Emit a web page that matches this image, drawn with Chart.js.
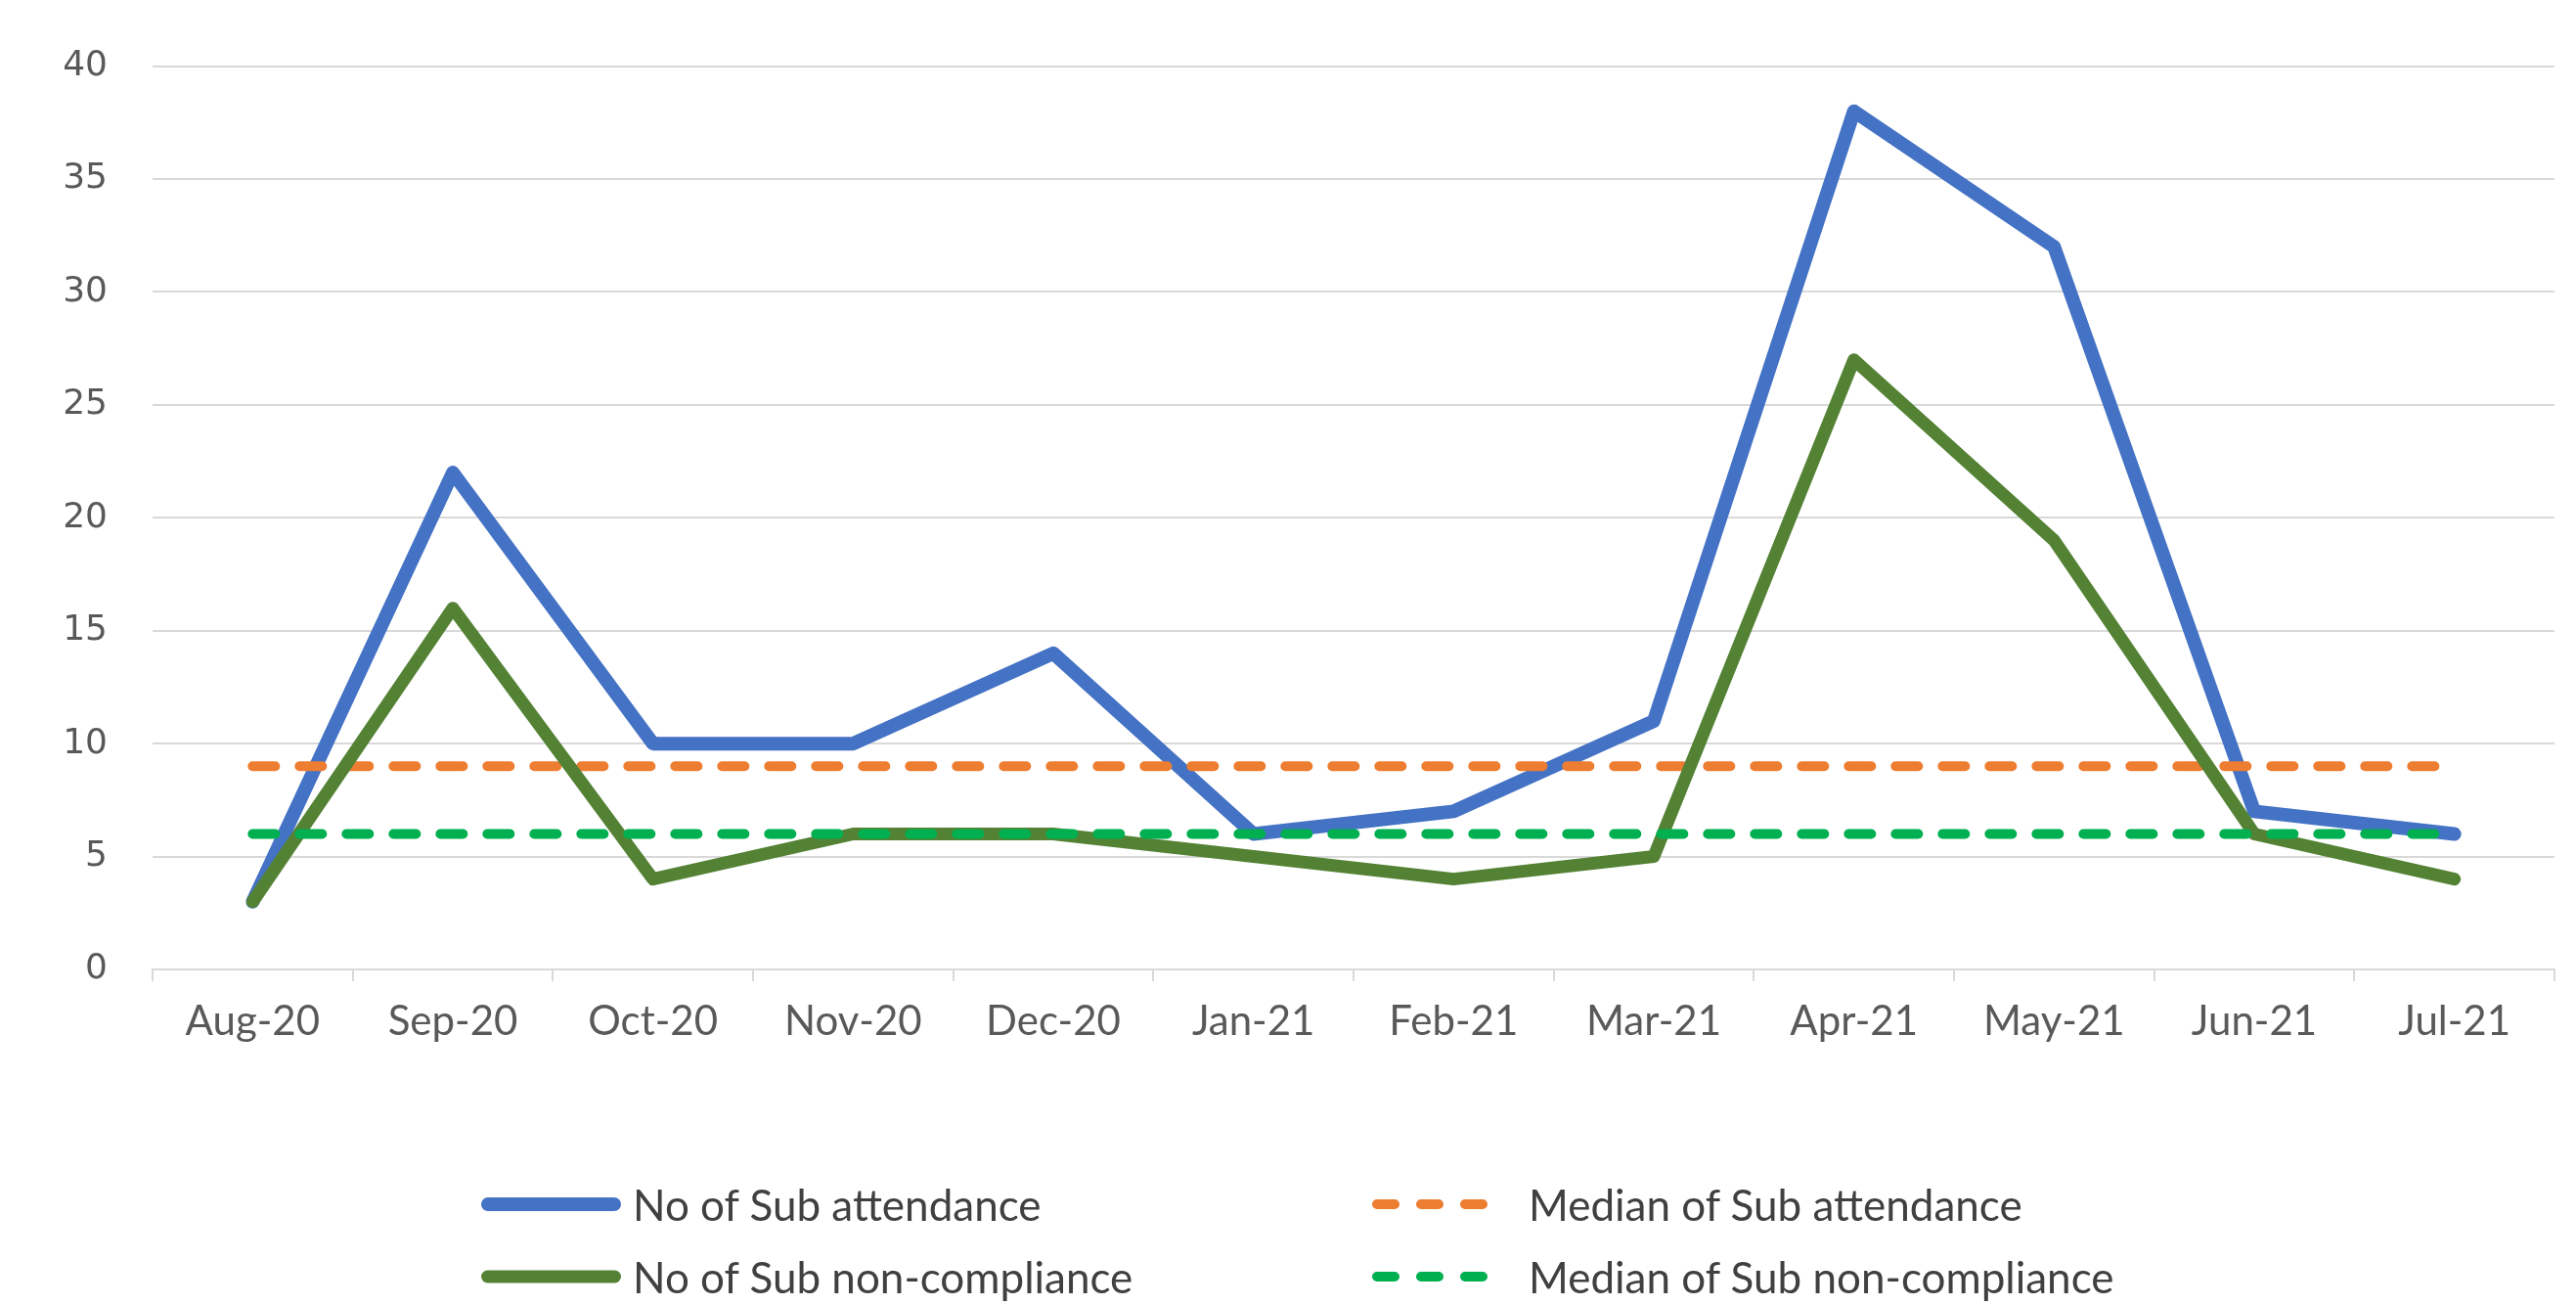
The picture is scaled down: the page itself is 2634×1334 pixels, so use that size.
<!DOCTYPE html>
<html>
<head>
<meta charset="utf-8">
<script src="https://cdn.jsdelivr.net/npm/chart.js@4.4.1/dist/chart.umd.min.js"></script>
<style>
  body { margin: 0; background: #fff; }
  #wrap { position: relative; width: 2634px; height: 1334px; }
  #legend { position: absolute; left: 0; top: 0; width: 2634px; height: 1334px; pointer-events: none; }
  .item { position: absolute; display: flex; align-items: center; font-family: Lato, "Liberation Sans", sans-serif; font-size: 44px; color: #404040; }
  .item svg { margin-right: 8px; }
</style>
</head>
<body>
<div id="wrap">
  <canvas id="chart"></canvas>
  <div id="legend"></div>
</div>
<script>
const months = ["Aug-20", "Sep-20", "Oct-20", "Nov-20", "Dec-20", "Jan-21", "Feb-21", "Mar-21", "Apr-21", "May-21", "Jun-21", "Jul-21"];
const subAttendance = [3, 22, 10, 10, 14, 6, 7, 11, 38, 32, 7, 6];
const subNonCompliance = [3, 16, 4, 6, 6, 5, 4, 5, 27, 19, 6, 4];
const medianAttendance = [9, 9, 9, 9, 9, 9, 9, 9, 9, 9, 9, 9];
const medianNonCompliance = [6, 6, 6, 6, 6, 6, 6, 6, 6, 6, 6, 6];
const yTicks = [0, 5, 10, 15, 20, 25, 30, 35, 40];

const datasets = [
  { label: "No of Sub attendance", data: subAttendance, borderColor: "#4472C4", borderWidth: 14, order: 4 },
  { label: "Median of Sub attendance", data: medianAttendance, borderColor: "#ED7D31", borderWidth: 10, borderDash: [23, 25], order: 3 },
  { label: "No of Sub non-compliance", data: subNonCompliance, borderColor: "#548235", borderWidth: 13, order: 2 },
  { label: "Median of Sub non-compliance", data: medianNonCompliance, borderColor: "#00B050", borderWidth: 10, borderDash: [23, 25], order: 1 },
];
datasets.forEach((d) => {
  d.pointRadius = 0;
  d.tension = 0;
  d.fill = false;
  d.borderCapStyle = "round";
  d.borderJoinStyle = "round";
});

const ctx = document.getElementById("chart").getContext("2d");
const chart = new Chart(ctx, {
  type: "line",
  data: { labels: months, datasets: datasets },
  options: {
    responsive: true,
    maintainAspectRatio: false,
    animation: false,
    layout: { padding: { left: 0, right: 22, top: 65, bottom: 263 } },
    plugins: { legend: { display: false }, tooltip: { enabled: false } },
    scales: {
      x: {
        offset: true,
        grid: { offset: true, drawOnChartArea: false, drawTicks: true, tickLength: 12, color: "#d9d9d9", lineWidth: 2 },
        border: { color: "#d9d9d9", width: 2 },
        ticks: { font: { family: "Lato", size: 42 }, color: "#595959", padding: 16, maxRotation: 0, autoSkip: false },
        afterFit: (s) => { s.height = 80; },
      },
      y: {
        min: 0,
        max: 40,
        afterBuildTicks: (s) => { s.ticks = yTicks.map((v) => ({ value: v })); },
        grid: { drawTicks: false, color: "#d9d9d9", lineWidth: 2 },
        border: { display: false },
        ticks: { font: { family: "DejaVu Sans", size: 36 }, color: "#595959", padding: 46 },
        afterFit: (s) => { s.width = 156; },
      },
    },
  },
});

// html legend, two columns like the original
const legendPos = [
  { x: 490, y: 1231, w: 145 },
  { x: 1401, y: 1231, w: 128 },
  { x: 490, y: 1305, w: 145 },
  { x: 1401, y: 1305, w: 128 },
];
const legend = document.getElementById("legend");
chart.data.datasets.forEach((d, i) => {
  const p = legendPos[i];
  const el = document.createElement("div");
  el.className = "item";
  el.style.left = p.x + "px";
  el.style.top = (p.y - 30) + "px";
  el.style.height = "60px";
  const dash = d.borderDash ? 'stroke-dasharray="18 27"' : "";
  const pad = d.borderWidth / 2;
  el.innerHTML =
    '<svg width="' + (p.w + 26) + '" height="20"><line x1="' + (pad + 2) + '" y1="10" x2="' + (p.w - pad) +
    '" y2="10" stroke="' + d.borderColor + '" stroke-width="' + d.borderWidth + '" stroke-linecap="round" ' + dash + '/></svg>' +
    "<span>" + d.label + "</span>";
  if (!d.borderDash) el.querySelector("svg").setAttribute("width", p.w + 4);
  legend.appendChild(el);
});
</script>
</body>
</html>
